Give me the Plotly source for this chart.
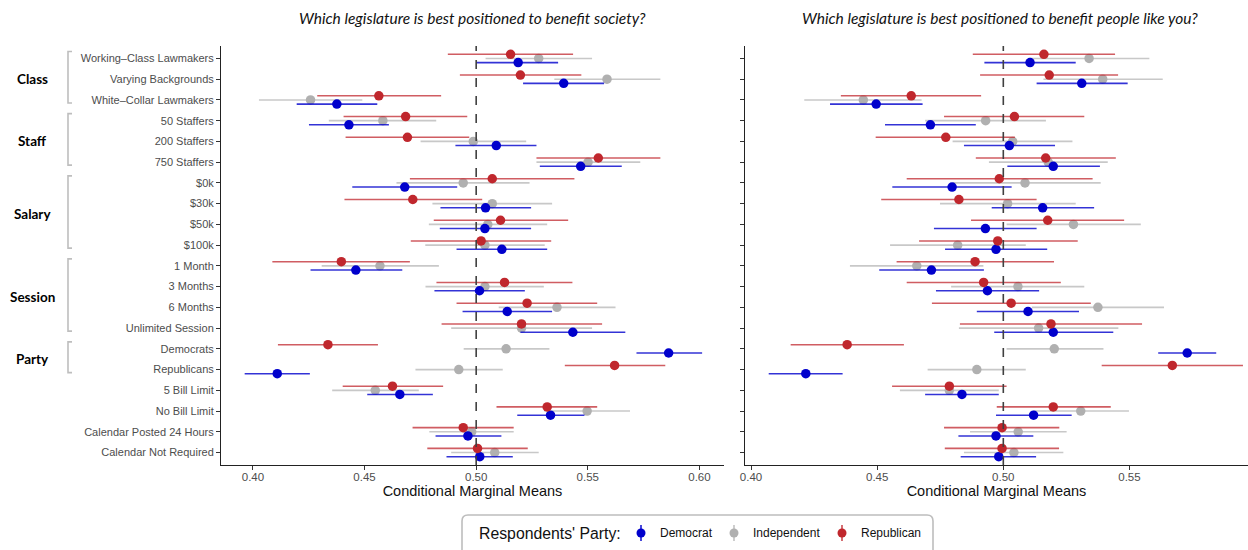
import plotly.graph_objects as go

# ---- data -------------------------------------------------------------
attributes = [
    "Working–Class Lawmakers", "Varying Backgrounds", "White–Collar Lawmakers",
    "50 Staffers", "200 Staffers", "750 Staffers",
    "$0k", "$30k", "$50k", "$100k",
    "1 Month", "3 Months", "6 Months", "Unlimited Session",
    "Democrats", "Republicans",
    "5 Bill Limit", "No Bill Limit",
    "Calendar Posted 24 Hours", "Calendar Not Required",
]

groups = ["Class", "Staff", "Salary", "Session", "Party"]
group_first = [0, 3, 6, 10, 14]
group_last = [2, 5, 9, 13, 15]

parties = ["Democrat", "Independent", "Republican"]

# Panel 1: benefit society
soc_dem = [0.5188, 0.5392, 0.4376, 0.4430, 0.5090, 0.5468, 0.4680, 0.5042, 0.5039, 0.5115,
           0.4461, 0.5015, 0.5139, 0.5433, 0.5862, 0.4109, 0.4658, 0.5333, 0.4963, 0.5016]
soc_dem_lo = [0.5001, 0.5210, 0.4196, 0.4251, 0.4907, 0.5285, 0.4445, 0.4840, 0.4837, 0.4912,
              0.4258, 0.4813, 0.4939, 0.5198, 0.5718, 0.3963, 0.4512, 0.5184, 0.4818, 0.4867]
soc_dem_hi = [0.5367, 0.5573, 0.4557, 0.4609, 0.5270, 0.5652, 0.4915, 0.5246, 0.5246, 0.5318,
              0.4669, 0.5218, 0.5340, 0.5668, 0.6012, 0.4255, 0.4806, 0.5485, 0.5113, 0.5164]

soc_ind = [0.5280, 0.5586, 0.4258, 0.4582, 0.4987, 0.5501, 0.4942, 0.5072, 0.5052, 0.5039,
           0.4569, 0.5039, 0.5362, 0.5203, 0.5134, 0.4922, 0.4548, 0.5497, 0.4980, 0.5083]
soc_ind_lo = [0.5042, 0.5350, 0.4027, 0.4340, 0.4751, 0.5270, 0.4643, 0.4804, 0.4788, 0.4772,
              0.4308, 0.4773, 0.5101, 0.4888, 0.4944, 0.4728, 0.4355, 0.5305, 0.4790, 0.4888]
soc_ind_hi = [0.5519, 0.5825, 0.4490, 0.4821, 0.5224, 0.5735, 0.5239, 0.5340, 0.5318, 0.5307,
              0.4833, 0.5303, 0.5624, 0.5519, 0.5328, 0.5119, 0.4743, 0.5689, 0.5168, 0.5280]

soc_rep = [0.5154, 0.5198, 0.4564, 0.4684, 0.4692, 0.5547, 0.5072, 0.4716, 0.5109, 0.5022,
           0.4396, 0.5127, 0.5228, 0.5203, 0.4336, 0.5620, 0.4625, 0.5318, 0.4942, 0.5006]
soc_rep_lo = [0.4873, 0.4927, 0.4288, 0.4406, 0.4415, 0.5270, 0.4703, 0.4410, 0.4810, 0.4707,
              0.4087, 0.4822, 0.4912, 0.4845, 0.4112, 0.5397, 0.4402, 0.5091, 0.4715, 0.4781]
soc_rep_hi = [0.5434, 0.5471, 0.4843, 0.4960, 0.4969, 0.5825, 0.5440, 0.5027, 0.5412, 0.5336,
              0.4703, 0.5431, 0.5542, 0.5564, 0.4560, 0.5847, 0.4852, 0.5542, 0.5168, 0.5231]

# Panel 2: benefit people like you
you_dem = [0.5106, 0.5311, 0.4496, 0.4711, 0.5024, 0.5198, 0.4797, 0.5156, 0.4929, 0.4971,
           0.4715, 0.4937, 0.5098, 0.5198, 0.5729, 0.4217, 0.4836, 0.5120, 0.4971, 0.4982]
you_dem_lo = [0.4925, 0.5132, 0.4313, 0.4531, 0.4844, 0.5016, 0.4560, 0.4954, 0.4725, 0.4769,
              0.4508, 0.4733, 0.4895, 0.4964, 0.5614, 0.4070, 0.4690, 0.4971, 0.4822, 0.4831]
you_dem_hi = [0.5287, 0.5493, 0.4680, 0.4891, 0.5205, 0.5383, 0.5033, 0.5360, 0.5132, 0.5174,
              0.4923, 0.5142, 0.5300, 0.5436, 0.5844, 0.4363, 0.4982, 0.5271, 0.5119, 0.5130]

you_ind = [0.5340, 0.5394, 0.4445, 0.4930, 0.5037, 0.5178, 0.5086, 0.5017, 0.5278, 0.4819,
           0.4657, 0.5058, 0.5375, 0.5140, 0.5202, 0.4895, 0.4786, 0.5307, 0.5059, 0.5042]
you_ind_lo = [0.5100, 0.5159, 0.4211, 0.4690, 0.4799, 0.4943, 0.4802, 0.4749, 0.5013, 0.4551,
              0.4392, 0.4793, 0.5113, 0.4824, 0.5013, 0.4700, 0.4590, 0.5119, 0.4868, 0.4844]
you_ind_hi = [0.5579, 0.5632, 0.4676, 0.5169, 0.5274, 0.5414, 0.5386, 0.5287, 0.5545, 0.5089,
              0.4921, 0.5321, 0.5637, 0.5456, 0.5397, 0.5089, 0.4982, 0.5498, 0.5251, 0.5238]

you_rep = [0.5161, 0.5182, 0.4635, 0.5044, 0.4772, 0.5168, 0.4984, 0.4824, 0.5176, 0.4978,
           0.4888, 0.4922, 0.5031, 0.5189, 0.4381, 0.5670, 0.4786, 0.5198, 0.4995, 0.4995]
you_rep_lo = [0.4879, 0.4908, 0.4356, 0.4765, 0.4494, 0.4891, 0.4617, 0.4516, 0.4872, 0.4666,
              0.4577, 0.4617, 0.4717, 0.4828, 0.4157, 0.5390, 0.4559, 0.4974, 0.4765, 0.4768]
you_rep_hi = [0.5443, 0.5455, 0.4912, 0.5321, 0.5046, 0.5446, 0.5354, 0.5132, 0.5479, 0.5295,
              0.5201, 0.5228, 0.5347, 0.5550, 0.4606, 0.5950, 0.5013, 0.5426, 0.5222, 0.5221]

panel_titles = [
    "Which legislature is best positioned to benefit society?",
    "Which legislature is best positioned to benefit people like you?",
]
x_ticks_left = [0.40, 0.45, 0.50, 0.55, 0.60]
x_ticks_right = [0.40, 0.45, 0.50, 0.55]

# ---- styling ----------------------------------------------------------
W, H = 1248, 550
ML, MR, MT, MB = 221, 0, 46, 85
PW, PH = W - ML - MR, H - MT - MB

dot_color = {"Democrat": "#0000CC", "Independent": "#B0B0B0", "Republican": "#C0272D"}
bar_color = {"Democrat": "rgba(0,0,204,0.80)", "Independent": "rgba(176,176,176,0.70)",
             "Republican": "rgba(192,39,45,0.75)"}
offset = {"Democrat": 0.2, "Independent": 0.0, "Republican": -0.2}
TICK_FONT = "Liberation Sans, Arial, sans-serif"


def px_x(px):
    return (px - ML) / PW


def px_y(py):
    return (MT + PH - py) / PH


panels = [
    {"xa": "x", "ya": "y",
     "Democrat": (soc_dem, soc_dem_lo, soc_dem_hi),
     "Independent": (soc_ind, soc_ind_lo, soc_ind_hi),
     "Republican": (soc_rep, soc_rep_lo, soc_rep_hi)},
    {"xa": "x2", "ya": "y2",
     "Democrat": (you_dem, you_dem_lo, you_dem_hi),
     "Independent": (you_ind, you_ind_lo, you_ind_hi),
     "Republican": (you_rep, you_rep_lo, you_rep_hi)},
]

fig = go.Figure()

# grey first so the coloured estimates sit on top of it
for panel in panels:
    for party in ["Independent", "Democrat", "Republican"]:
        est, lo, hi = panel[party]
        ys = [i + offset[party] for i in range(len(attributes))]
        fig.add_trace(go.Scatter(
            x=est, y=ys, xaxis=panel["xa"], yaxis=panel["ya"],
            mode="markers", name=party, showlegend=False,
            marker=dict(size=9.5, color=dot_color[party]),
            error_x=dict(type="data", symmetric=False,
                         array=[h - e for h, e in zip(hi, est)],
                         arrayminus=[e - l for e, l in zip(est, lo)],
                         width=0, thickness=1.6, color=bar_color[party]),
            hovertemplate="%{x:.3f}<extra>" + party + "</extra>",
        ))

axis_common = dict(showgrid=False, zeroline=False, showline=True, linecolor="#222",
                   linewidth=1, ticks="outside", ticklen=4, tickcolor="#333",
                   tickfont=dict(family=TICK_FONT, size=11.5, color="#4D4D4D"))

y_common = dict(axis_common, range=[19.6, -0.6], tickvals=list(range(len(attributes))),
                domain=[0, 1])

x_title = dict(text="Conditional Marginal Means", standoff=3,
               font=dict(family=TICK_FONT, size=14.5, color="#111"))

fig.update_layout(
    width=W, height=H,
    margin=dict(l=ML, r=MR, t=MT, b=MB),
    plot_bgcolor="white", paper_bgcolor="white",
    xaxis=dict(axis_common, domain=[0, px_x(724)], range=[0.3857, 0.611],
               tickvals=x_ticks_left, tickformat=".2f", anchor="y",
               ticklabelstandoff=-3, title=x_title),
    xaxis2=dict(axis_common, domain=[px_x(745), 1], range=[0.3976, 0.597],
                tickvals=x_ticks_right, tickformat=".2f", anchor="y2",
                ticklabelstandoff=-3, title=x_title),
    yaxis=dict(y_common, ticktext=attributes, anchor="x",
               tickfont=dict(family=TICK_FONT, size=11, color="#4D4D4D")),
    yaxis2=dict(y_common, showticklabels=False, anchor="x2"),
)

shapes = []
annotations = []

# reference line at 0.5 in both panels
for xa, ya in [("x", "y"), ("x2", "y2")]:
    shapes.append(dict(type="line", xref=xa, yref=ya + " domain", x0=0.5, x1=0.5,
                       y0=0, y1=1, line=dict(color="#404040", width=1.6, dash="dash")))

# panel titles
for xc, title in [(472, panel_titles[0]), (1000, panel_titles[1])]:
    annotations.append(dict(text="<i>" + title + "</i>", xref="paper", yref="paper",
                            x=px_x(xc), y=px_y(18), xanchor="center", yanchor="middle",
                            showarrow=False,
                            font=dict(family="Lato, sans-serif", size=15.5, color="#111")))

# attribute group labels with brackets
row_px = lambda r: MT + (r + 0.6) / 20.2 * PH
for name, first, last in zip(groups, group_first, group_last):
    top = row_px(first) - 7
    bot = row_px(last) + 3
    bx = px_x(68)
    tx = px_x(72)
    shapes.append(dict(type="path", xref="paper", yref="paper",
                       path=f"M {tx} {px_y(top)} L {bx} {px_y(top)} L {bx} {px_y(bot)} L {tx} {px_y(bot)}",
                       line=dict(color="#BEBEBE", width=1.6)))
    annotations.append(dict(text="<b>" + name + "</b>", xref="paper", yref="paper",
                            x=px_x(32), y=px_y((row_px(first) + row_px(last)) / 2),
                            xanchor="center", yanchor="middle", showarrow=False,
                            font=dict(family="Lato, sans-serif", size=13.5, color="#000")))

# legend box
lx0, lx1, ly0, ly1, rr = 462, 933, 515, 556, 6
path = (f"M {px_x(lx0 + rr)} {px_y(ly0)} L {px_x(lx1 - rr)} {px_y(ly0)} "
        f"Q {px_x(lx1)} {px_y(ly0)} {px_x(lx1)} {px_y(ly0 + rr)} "
        f"L {px_x(lx1)} {px_y(ly1 - rr)} Q {px_x(lx1)} {px_y(ly1)} {px_x(lx1 - rr)} {px_y(ly1)} "
        f"L {px_x(lx0 + rr)} {px_y(ly1)} Q {px_x(lx0)} {px_y(ly1)} {px_x(lx0)} {px_y(ly1 - rr)} "
        f"L {px_x(lx0)} {px_y(ly0 + rr)} Q {px_x(lx0)} {px_y(ly0)} {px_x(lx0 + rr)} {px_y(ly0)} Z")
shapes.append(dict(type="path", xref="paper", yref="paper", path=path,
                   line=dict(color="#BDBDBD", width=1.6), fillcolor="white", layer="below"))

annotations.append(dict(text="Respondents' Party:", xref="paper", yref="paper",
                        x=px_x(477), y=px_y(533), xanchor="left", yanchor="middle",
                        showarrow=False,
                        font=dict(family=TICK_FONT, size=15.8, color="#111")))

leg_x = {"Democrat": 641, "Independent": 734, "Republican": 842}
for party in parties:
    gx = leg_x[party]
    gy = 533
    shapes.append(dict(type="line", xref="paper", yref="paper",
                       x0=px_x(gx), x1=px_x(gx), y0=px_y(gy - 8), y1=px_y(gy + 8),
                       line=dict(color=bar_color[party], width=1.8)))
    shapes.append(dict(type="circle", xref="paper", yref="paper",
                       x0=px_x(gx - 4.5), x1=px_x(gx + 4.5),
                       y0=px_y(gy + 4.5), y1=px_y(gy - 4.5),
                       fillcolor=dot_color[party], line=dict(width=0)))
    annotations.append(dict(text=party, xref="paper", yref="paper",
                            x=px_x(gx + 17), y=px_y(gy), xanchor="left", yanchor="middle",
                            showarrow=False,
                            font=dict(family=TICK_FONT, size=12, color="#111")))

fig.update_layout(shapes=shapes, annotations=annotations)

fig.write_html("out.html")
